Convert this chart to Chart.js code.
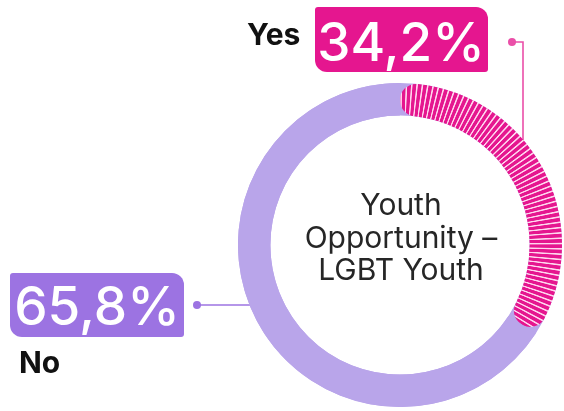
<!DOCTYPE html>
<html>
<head>
<meta charset="utf-8">
<script src="https://cdn.jsdelivr.net/npm/chart.js@4/dist/chart.umd.min.js"></script>
<style>
  html, body { margin: 0; padding: 0; background: #fff; }
  #wrap { width: 564px; height: 411px; }
</style>
</head>
<body>
<div id="wrap"><canvas id="donut" width="564" height="411"></canvas></div>
<script>
const categories = ["Yes", "No"];
const shares = [34.2, 65.8];
const centerLines = ["Youth", "Opportunity –", "LGBT Youth"];

const MAGENTA = "#e5168f";
const STRIPE = "#ffd6ee";
const LAVENDER = "#b9a5ea";
const PURPLE = "#9c73e2";

function pct(v) {
  return v.toFixed(1).replace(".", ",") + "%";
}

// "Yes" gets radial stripes (conic gradient around the centre), "No" is flat
function segmentFill(context) {
  if (context.dataIndex !== 0) return LAVENDER;
  const chart = context.chart;
  const area = chart.chartArea;
  if (!area || !chart.ctx.createConicGradient) return MAGENTA;
  const cx = (area.left + area.right) / 2;
  const cy = (area.top + area.bottom) / 2;
  const g = chart.ctx.createConicGradient(0, cx, cy);
  const n = 190;
  for (let i = 0; i < n; i++) {
    const a = i / n;
    g.addColorStop(a, MAGENTA);
    g.addColorStop(a + 0.5 / n, MAGENTA);
    g.addColorStop(a + 0.65 / n, STRIPE);
    g.addColorStop(a + 0.8 / n, STRIPE);
    g.addColorStop(a + 0.95 / n, MAGENTA);
  }
  return g;
}

function box(ctx, x, y, w, h, fill) {
  ctx.fillStyle = fill;
  ctx.beginPath();
  ctx.roundRect(x, y, w, h, [3, 12, 3, 12]);
  ctx.fill();
}

const ringTrack = {
  id: "ringTrack",
  beforeDatasetsDraw(chart) {
    const arc = chart.getDatasetMeta(0).data[0];
    if (!arc) return;
    const ctx = chart.ctx;
    const r = (arc.outerRadius + arc.innerRadius) / 2;
    ctx.save();
    // connectors sit under the ring
    ctx.lineWidth = 1.6;
    ctx.strokeStyle = "#ea4fa8";
    ctx.beginPath();
    ctx.moveTo(512, 42);
    ctx.lineTo(523, 42);
    ctx.lineTo(523, 150);
    ctx.stroke();
    ctx.fillStyle = "#ea4fa8";
    ctx.beginPath();
    ctx.arc(512, 42, 4, 0, Math.PI * 2);
    ctx.fill();

    ctx.strokeStyle = PURPLE;
    ctx.beginPath();
    ctx.moveTo(197, 305);
    ctx.lineTo(255, 305);
    ctx.stroke();
    ctx.fillStyle = PURPLE;
    ctx.beginPath();
    ctx.arc(197, 305, 4, 0, Math.PI * 2);
    ctx.fill();

    // full lavender track behind the segments
    ctx.strokeStyle = LAVENDER;
    ctx.lineWidth = arc.outerRadius - arc.innerRadius;
    ctx.beginPath();
    ctx.arc(arc.x, arc.y, r, 0, Math.PI * 2);
    ctx.stroke();
    ctx.restore();
  }
};

const labels = {
  id: "labels",
  afterDraw(chart) {
    const ctx = chart.ctx;
    const arc = chart.getDatasetMeta(0).data[0];
    ctx.save();

    // centre title
    ctx.fillStyle = "#262626";
    ctx.textAlign = "center";
    ctx.textBaseline = "alphabetic";
    ctx.font = "400 30px Inter";
    centerLines.forEach((line, i) => {
      ctx.fillText(line, arc.x + 1, 215 + i * 32.5);
    });

    // Yes
    box(ctx, 315, 7, 173, 65, MAGENTA);
    ctx.fillStyle = "#fff";
    ctx.font = "500 53px Inter";
    ctx.fillText(pct(shares[0]), 401, 61);
    ctx.fillStyle = "#111";
    ctx.textAlign = "left";
    ctx.font = "700 30px Inter";
    ctx.fillText(categories[0], 247, 45);

    // No
    box(ctx, 10, 273, 174, 64, PURPLE);
    ctx.fillStyle = "#fff";
    ctx.textAlign = "center";
    ctx.font = "500 53px Inter";
    ctx.fillText(pct(shares[1]), 97, 325);
    ctx.fillStyle = "#111";
    ctx.textAlign = "left";
    ctx.font = "700 30px Inter";
    ctx.fillText(categories[1], 19, 373);

    ctx.restore();
  }
};

new Chart(document.getElementById("donut"), {
  type: "doughnut",
  data: {
    labels: categories,
    datasets: [
      {
        data: shares,
        backgroundColor: segmentFill,
        borderWidth: 0,
        borderRadius: [16, 0],
      },
    ],
  },
  options: {
    responsive: false,
    animation: false,
    events: [],
    cutout: "80%",
    rotation: 0,
    layout: {
      padding: { left: 238, right: 2, top: 83, bottom: 4 },
    },
    plugins: {
      legend: { display: false },
      tooltip: { enabled: false },
    },
  },
  plugins: [ringTrack, labels],
});
</script>
</body>
</html>
